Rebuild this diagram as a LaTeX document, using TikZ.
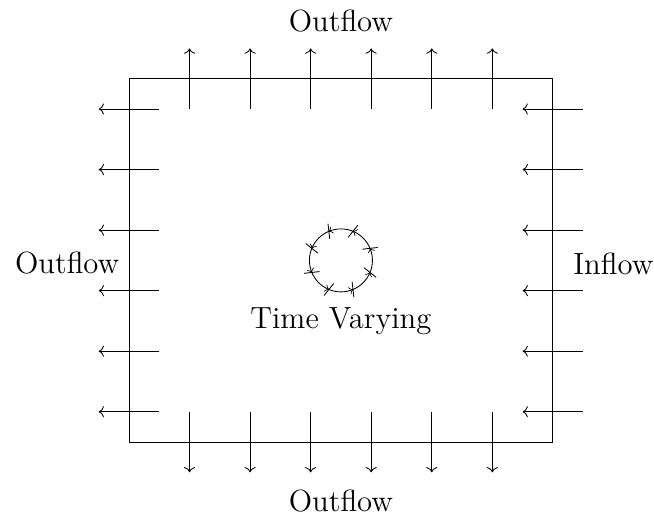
\documentclass[tikz,border=0pt]{standalone}
\usepackage{tikz}
\usetikzlibrary{positioning, arrows.meta, decorations.markings}

\begin{document}
\begin{tikzpicture}[
      font=\Large,
      flow/.style={->},
      label/.style={inner sep=0pt},
      swirl/.style={postaction={decorate}, decoration={markings,
        mark=between positions 0.0625 and 1 step 0.125 with {
          \arrow[scale=1.7]{to}
          \draw (-1pt,-3.5pt) -- (1pt,3.5pt);
        }}}
    ]
    \useasboundingbox (-2.13,-1.32) rectangle (8.67,7.3);
    % domain
    \node[draw, minimum width=7cm, minimum height=6cm, inner sep=0pt] (dom) at (3.5,3) {};
    % top and bottom outflow
    \foreach \i in {1,...,6} {
      \draw[flow] (\i,5.5) -- (\i,6.5);
      \draw[flow] (\i,0.5) -- (\i,-0.5);
    }
    % left outflow and right inflow
    \foreach \j in {0,...,5} {
      \draw[flow] (0.5,\j+0.5) -- (-0.5,\j+0.5);
      \draw[flow] (7.5,\j+0.5) -- (6.5,\j+0.5);
    }
    % oscillating body
    \node[draw, circle, minimum size=1.04cm, inner sep=0pt, swirl] (body) at (dom.center) {};
    \node[label] (lbody) at (3.5,2) {Time Varying};
    \node[label] (ltop) at (3.5,6.95) {Outflow};
    \node[label] (lbot) at (3.5,-0.97) {Outflow};
    \node[label] (lleft) at (-1.02,2.95) {Outflow};
    \node[label] (lright) at (8,2.95) {Inflow};
  \end{tikzpicture}
\end{document}
